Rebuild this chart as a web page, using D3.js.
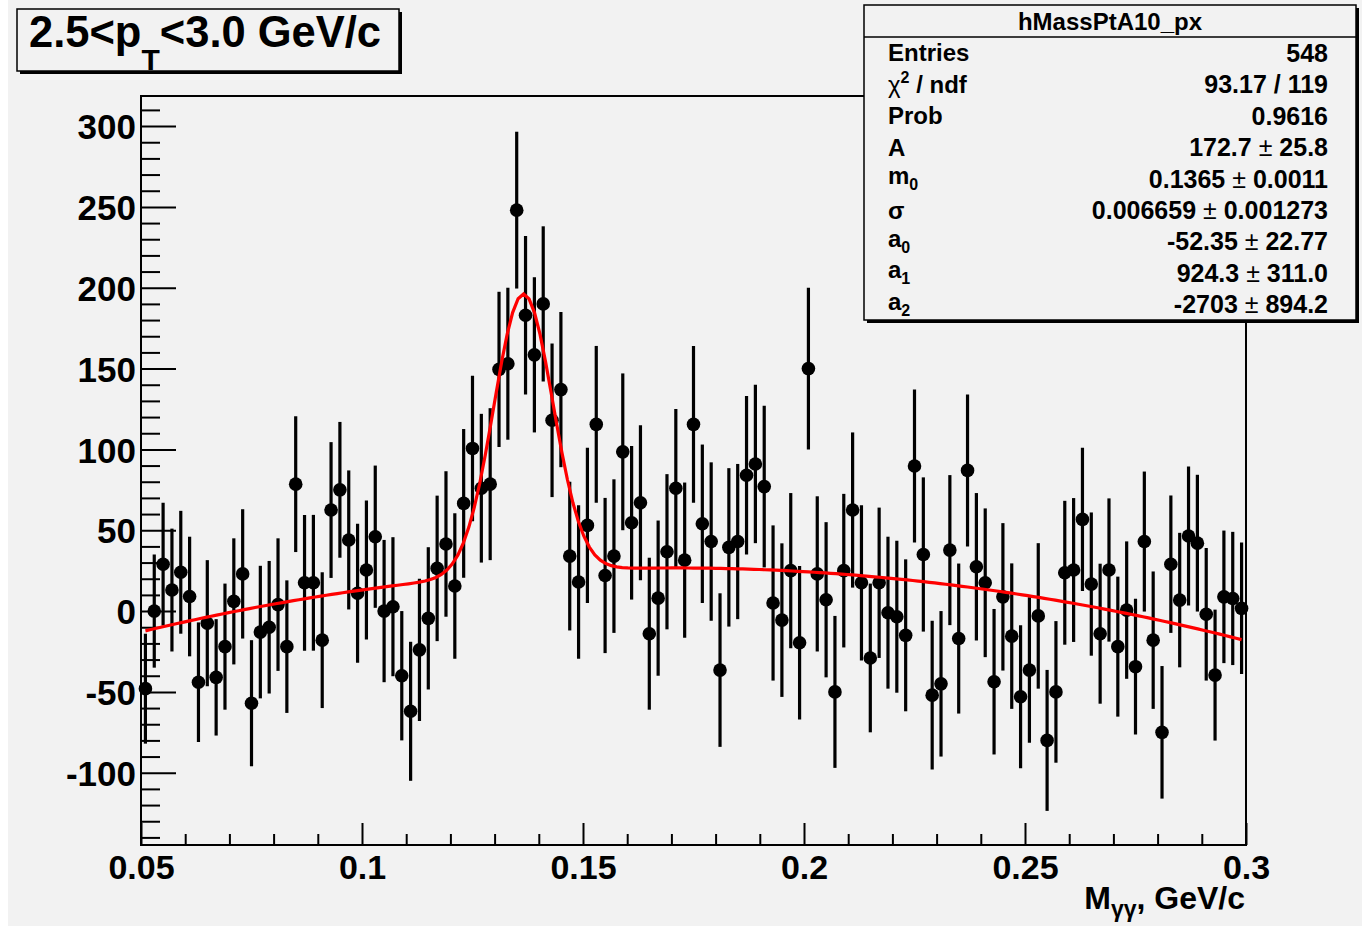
<!DOCTYPE html>
<html>
<head>
<meta charset="utf-8">
<script src="https://cdn.jsdelivr.net/npm/d3@7"></script>
<style>
  body { margin: 0; background: #fff; }
  svg { display: block; }
  text { font-family: "Liberation Sans", Arial, sans-serif; font-weight: bold; fill: #000; }
</style>
</head>
<body>
<svg id="chart" width="1362" height="933"></svg>
<script>
// histogram: 125 bins of 0.002 from 0.05 to 0.30
const binLow = 0.05;
const binWidth = 0.002;
const counts = [
  -48, 0, 29, 13, 24, 9, -44, -7.5, -41, -22,
  6, 23, -57, -13, -10, 4, -22, 78.5, 17.5, 17.5,
  -18, 62.5, 75, 44, 11, 25.4, 46, 0, 2.7, -40,
  -62, -24, -4.5, 26.4, 41.5, 15.5, 66.6, 100.6, 76, 78.5,
  149.5, 153, 248, 183, 158.5, 190, 118, 137, 34, 18,
  53, 115.5, 22, 34, 98.5, 54.6, 67, -14, 8, 36.7,
  76, 31.5, 115.5, 54, 43, -36.5, 39.4, 43, 84, 91,
  77, 5, -5.6, 25, -19.6, 150, 23, 7, -50, 25,
  62.5, 17.5, -29, 17.5, -1, -3.5, -15, 89.7, 35, -52,
  -45, 37.7, -17, 87, 27.4, 17.5, -43.7, 8.8, -15.5, -53,
  -36.5, -3, -80, -50, 23.7, 25.4, 56.7, 16.7, -14, 25.4,
  -22, 0.6, -34.4, 43, -18, -75, 29, 6.8, 46.4, 42,
  -2, -39.6, 8.8, 7.8, 1.7
];
const errors = [
  34, 35, 38, 38, 38, 37, 37, 39, 36, 39,
  39, 40, 39, 41, 41, 41, 41, 42, 42, 42,
  42, 42, 42, 43, 43, 43, 44, 44, 43, 40,
  43, 44, 44, 45, 45, 45, 46, 45, 46, 47,
  48, 47, 48.5, 49, 48, 48, 47.5, 48, 46, 47.5,
  48, 48.5, 48, 47.5, 48.5, 47.5, 48, 47, 48, 48,
  49, 48, 48.5, 49, 49, 47.5, 49, 48, 49, 49,
  50, 48, 47.5, 48, 47.5, 50, 48, 48, 47, 47.5,
  48, 48, 46, 46.5, 47, 47, 47, 47.3, 47.7, 46,
  45, 46.4, 46.4, 47, 45.6, 46, 45, 45.6, 45, 44.3,
  45, 45, 43.6, 43.8, 44.5, 44.5, 44.3, 44.3, 43.3, 44.3,
  43.3, 42.5, 42, 43.3, 42.5, 41, 42.5, 41.6, 43, 42.3,
  41, 40.5, 41, 41.2, 40.7
];

// fit: gaus + pol2, parameters as printed in the stats box
const fitParams = [172.7, 0.1365, 0.006659, -52.35, 924.3, -2703];
const fitRange = [0.051, 0.299];

const xTicks = [0.05, 0.1, 0.15, 0.2, 0.25, 0.3];
const yTicks = [-100, -50, 0, 50, 100, 150, 200, 250, 300];

const statLabels = ["Entries", "χ2 / ndf", "Prob", "A", "m0", "σ", "a0", "a1", "a2"];
const statValues = ["548", "93.17 / 119", "0.9616", "172.7 ± 25.8", "0.1365 ± 0.0011",
  "0.006659 ± 0.001273", "-52.35 ± 22.77", "924.3 ± 311.0", "-2703 ± 894.2"];

const width = 1362, height = 933;
const frame = { left: 141, right: 1246, top: 96, bottom: 845 };
const bg = "#f2f2f2";

const svg = d3.select("#chart");

svg.append("rect")
  .attr("x", 8).attr("y", 0)
  .attr("width", width - 8).attr("height", 926)
  .attr("fill", bg);

const x = d3.scaleLinear().domain([0.05, 0.3]).range([frame.left, frame.right]);
const y = d3.scaleLinear().domain([-144.7, 318.6]).range([frame.bottom, frame.top]);

// minor ticks
svg.append("g")
  .attr("transform", `translate(${frame.left},0)`)
  .call(d3.axisLeft(y).tickValues(d3.range(-140, 320, 10).filter((v) => v % 50 !== 0))
    .tickSize(-19).tickFormat(""))
  .call((g) => g.select(".domain").remove())
  .call((g) => g.selectAll("line").attr("stroke-width", 2));

svg.append("g")
  .attr("transform", `translate(0,${frame.bottom})`)
  .call(d3.axisBottom(x).tickValues(d3.range(6, 30).filter((v) => v % 5 !== 0).map((v) => v / 100))
    .tickSize(-11).tickFormat(""))
  .call((g) => g.select(".domain").remove())
  .call((g) => g.selectAll("line").attr("stroke-width", 2));

// major ticks + labels
svg.append("g")
  .attr("transform", `translate(${frame.left},0)`)
  .call(d3.axisLeft(y).tickValues(yTicks).tickSize(-35).tickPadding(5).tickFormat((d) => String(d)))
  .call((g) => g.select(".domain").remove())
  .call((g) => g.selectAll("line").attr("stroke-width", 2))
  .call((g) => g.selectAll("text")
    .attr("font-size", 35).attr("font-family", null).attr("dy", "0.36em"));

svg.append("g")
  .attr("transform", `translate(0,${frame.bottom})`)
  .call(d3.axisBottom(x).tickValues(xTicks).tickSize(-22).tickPadding(10).tickFormat((d) => String(d)))
  .call((g) => g.select(".domain").remove())
  .call((g) => g.selectAll("line").attr("stroke-width", 2))
  .call((g) => g.selectAll("text")
    .attr("font-size", 34).attr("font-family", null).attr("dy", "0.72em"));

// frame
svg.append("rect")
  .attr("x", frame.left).attr("y", frame.top)
  .attr("width", frame.right - frame.left).attr("height", frame.bottom - frame.top)
  .attr("fill", "none").attr("stroke", "#000").attr("stroke-width", 2);

// data
const points = counts.map((v, i) => ({ x: binLow + binWidth * (i + 0.5), v, e: errors[i] }));

svg.append("g")
  .attr("stroke", "#000").attr("stroke-width", 3.2)
  .selectAll("line")
  .data(points)
  .join("line")
  .attr("x1", (d) => x(d.x)).attr("x2", (d) => x(d.x))
  .attr("y1", (d) => y(d.v - d.e)).attr("y2", (d) => y(d.v + d.e));

svg.append("g")
  .selectAll("circle")
  .data(points)
  .join("circle")
  .attr("cx", (d) => x(d.x)).attr("cy", (d) => y(d.v))
  .attr("r", 6.8).attr("fill", "#000");

// fit curve
const [A, m0, sigma, a0, a1, a2] = fitParams;
const fitFn = (m) => A * Math.exp(-((m - m0) ** 2) / (2 * sigma * sigma)) + a0 + a1 * m + a2 * m * m;
const fitX = d3.range(0, 201).map((k) => fitRange[0] + (fitRange[1] - fitRange[0]) * k / 200);

svg.append("path")
  .datum(fitX)
  .attr("fill", "none").attr("stroke", "#ff0000").attr("stroke-width", 3.2)
  .attr("d", d3.line().x((m) => x(m)).y((m) => y(fitFn(m))));

// x axis title
const xTitle = svg.append("text")
  .attr("x", 1245).attr("y", 909)
  .attr("text-anchor", "end").attr("font-size", 32);
xTitle.append("tspan").text("M");
xTitle.append("tspan").attr("font-size", 23).attr("dy", 8).text("γγ");
xTitle.append("tspan").attr("dy", -8).text(", GeV/c");

// title box
function shadowBox(x0, y0, w, h) {
  svg.append("rect").attr("x", x0 + 3).attr("y", y0 + 3).attr("width", w).attr("height", h).attr("fill", "#000");
  svg.append("rect").attr("x", x0).attr("y", y0).attr("width", w).attr("height", h)
    .attr("fill", bg).attr("stroke", "#000").attr("stroke-width", 1.5);
}

shadowBox(17, 9, 382, 62);
const title = svg.append("text").attr("x", 29).attr("y", 47).attr("font-size", 43.5);
title.append("tspan").text("2.5<p");
title.append("tspan").attr("font-size", 30).attr("dy", 23).text("T");
title.append("tspan").attr("dy", -23).text("<3.0 GeV/c");

// stats box
const stats = { x0: 864, y0: 5, w: 492, h: 315, head: 32 };
shadowBox(stats.x0, stats.y0, stats.w, stats.h);
svg.append("line")
  .attr("x1", stats.x0).attr("x2", stats.x0 + stats.w)
  .attr("y1", stats.y0 + stats.head).attr("y2", stats.y0 + stats.head)
  .attr("stroke", "#000").attr("stroke-width", 1.5);
svg.append("text")
  .attr("x", stats.x0 + stats.w / 2).attr("y", stats.y0 + stats.head / 2)
  .attr("dy", "0.36em").attr("text-anchor", "middle").attr("font-size", 24)
  .text("hMassPtA10_px");

const row = d3.scaleBand()
  .domain(d3.range(statLabels.length))
  .range([stats.y0 + stats.head, stats.y0 + stats.h]);

statLabels.forEach((lab, i) => {
  const cy = row(i) + row.bandwidth() / 2;
  const t = svg.append("text").attr("x", 888).attr("y", cy).attr("dy", "0.36em").attr("font-size", 24);
  const m = lab.match(/^([a-zA-Z]+)(\d)$/);
  if (lab === "χ2 / ndf") {
    t.append("tspan").attr("font-weight", "normal").text("χ");
    t.append("tspan").attr("font-size", 16).attr("dy", -10).text("2");
    t.append("tspan").attr("dy", 10).text(" / ndf");
  } else if (m) {
    t.attr("dy", "0.22em");
    t.append("tspan").text(m[1]);
    t.append("tspan").attr("font-size", 16).attr("dy", 6).text(m[2]);
  } else if (lab === "σ") {
    t.attr("font-weight", "normal").text(lab);
  } else {
    t.text(lab);
  }

  const parts = statValues[i].split(" ± ");
  const v = svg.append("text").attr("x", 1328).attr("y", cy).attr("dy", "0.36em")
    .attr("text-anchor", "end").attr("font-size", 25);
  v.append("tspan").text(parts[0]);
  if (parts.length > 1) {
    v.append("tspan").attr("font-weight", "normal").text(" ± ");
    v.append("tspan").text(parts[1]);
  }
});
</script>
</body>
</html>
